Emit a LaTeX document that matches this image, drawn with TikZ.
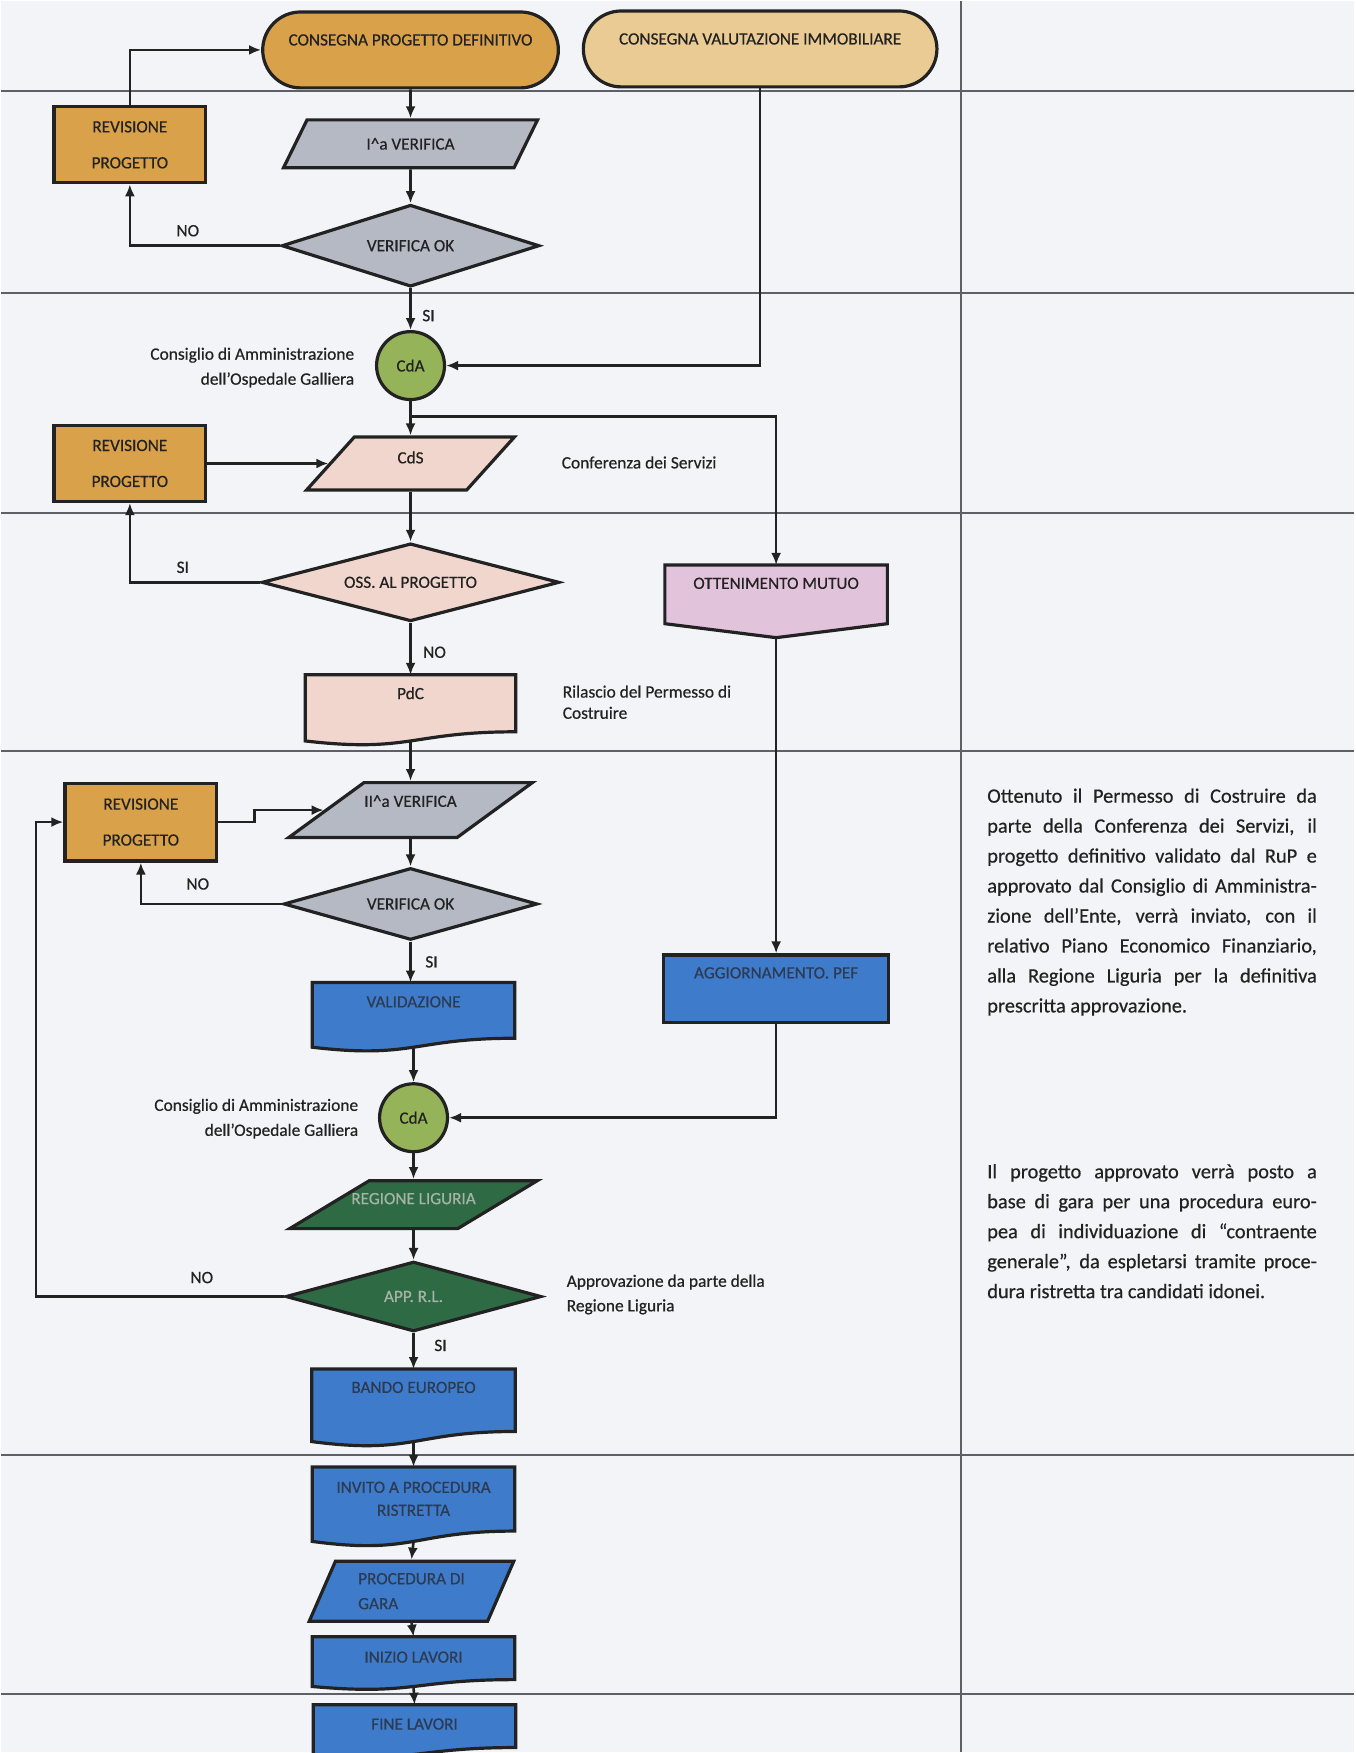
\documentclass[tikz,border=0pt]{standalone}
\usepackage{fontspec}
\setmainfont{Carlito}[FakeBold=0.5]
\usetikzlibrary{shapes.geometric,shapes.misc,arrows.meta,calc}
\pgfdeclarelayer{back}
\pgfdeclarelayer{bg}
\pgfsetlayers{back,bg,main}
\definecolor{bgpage}{HTML}{F3F4F7}
\definecolor{orangeC}{HTML}{D9A14A}
\definecolor{tanC}{HTML}{EACB93}
\definecolor{grayC}{HTML}{B4B9C4}
\definecolor{greenC}{HTML}{95B459}
\definecolor{pinkC}{HTML}{F1D6CD}
\definecolor{mauveC}{HTML}{E1C3DB}
\definecolor{blueC}{HTML}{3E7CCB}
\definecolor{dgreenC}{HTML}{2E6B44}
\definecolor{lineC}{HTML}{222222}
\definecolor{laneC}{HTML}{5E6066}
\definecolor{txtC}{HTML}{222222}
\definecolor{bluetxt}{HTML}{2C3A52}
\definecolor{greentxt}{HTML}{A7B3A5}
\newcommand{\docbg}[3]{%
  \begin{pgfonlayer}{bg}
  \path[shp, fill=#2] (#1.north west) -- (#1.north east)
    -- ($(#1.south east)+(0,{-0.131*#3})$)
    .. controls ($(#1.south)+(0,{-0.131*#3})$) and ($(#1.south)+(0,{0.174*#3})$) .. (#1.south west) -- cycle;
  \end{pgfonlayer}}
\newcommand{\mutbg}[2]{%
  \begin{pgfonlayer}{bg}
  \path[shp, fill=#2] (#1.north west) -- (#1.north east)
    -- ($(#1.south east)+(0,-14)$) -- (#1.south) -- ($(#1.south west)+(0,-14)$) -- cycle;
  \end{pgfonlayer}}
\begin{document}
\begin{tikzpicture}[x=0.5pt,y=-0.5pt,
  shp/.style={draw=lineC, line width=1.6pt, inner sep=0pt},
  ghost/.style={rectangle, draw=none, fill=none, inner sep=0pt},
  arr/.style={draw=lineC, line width=1.3pt, -{Latex[length=6pt,width=5pt]}},
  lane/.style={draw=laneC, line width=1pt},
  boxtxt/.style={font=\fontsize{8.6}{10}\selectfont, text=txtC, inner sep=0pt, align=center},
  lbl/.style={font=\fontsize{8.7}{12.5}\selectfont, text=txtC, inner sep=0pt},
  termbox/.style={shp, rounded rectangle, minimum height=38pt},
  revbox/.style={shp, rectangle, fill=orangeC, minimum width=76pt, minimum height=38pt, font=\fontsize{8.6}{18}\selectfont, text=txtC, align=center},
  parabox/.style={shp, trapezium, trapezium stretches=true, inner sep=2pt},
  diabox/.style={shp, diamond, font=\fontsize{8.6}{10}\selectfont, text=txtC},
  cdabox/.style={shp, circle, fill=greenC, minimum size=34pt, font=\fontsize{8.6}{10}\selectfont, text=txtC},
  note/.style={anchor=north west, text width=165pt, align=justify, inner sep=0pt,
    font=\fontsize{10.2}{15}\selectfont, text=txtC}
]
\begin{pgfonlayer}{back}
\fill[bgpage] (0,0) rectangle (1355,1753);
\foreach \yy in {90,292,513,751,1456,1695} \draw[lane] (0,\yy) -- (1355,\yy);
\draw[lane] (961,0) -- (961,1753);
\end{pgfonlayer}
\useasboundingbox (0,0) rectangle (1355,1753);

% ---- top lane
\node[termbox, fill=orangeC, minimum width=148pt] (term1) at (410,49) {};
\node[boxtxt] (term1-t) at (410,39) {CONSEGNA PROGETTO DEFINITIVO};
\node[termbox, fill=tanC, minimum width=177pt] (term2) at (760,48) {};
\node[boxtxt] (term2-t) at (760,38) {CONSEGNA VALUTAZIONE IMMOBILIARE};

\node[revbox] (rev1) at (129,144) {REVISIONE\\PROGETTO};
\node[parabox, fill=grayC, trapezium left angle=61, trapezium right angle=119,
  minimum width=127.5pt, minimum height=24pt, font=\fontsize{8.6}{10}\selectfont, text=txtC] (ver1) at (410,143) {I\textasciicircum{}a VERIFICA};
\node[diabox, fill=grayC, aspect=3.15, minimum width=129pt, minimum height=41pt] (dia1) at (410,245) {VERIFICA OK};
\node[lbl] (no1) at (187,230) {NO};
\node[lbl] (si1) at (428,315) {SI};

\node[cdabox] (cda1) at (410,365) {CdA};
\node[lbl, anchor=east, align=right] (cdal1) at (354,367) {Consiglio di Amministrazione\\dell’Ospedale Galliera};

\node[parabox, fill=pinkC, trapezium left angle=67, trapezium right angle=113,
  minimum width=104pt, minimum height=26.5pt] (cds) at (410,463) {};
\node[boxtxt] (cds-t) at (410,457) {CdS};
\node[revbox] (rev2) at (129,463) {REVISIONE\\PROGETTO};
\node[lbl, anchor=west] (cdsl) at (561,462) {Conferenza dei Servizi};

\node[diabox, fill=pinkC, aspect=3.8, minimum width=149pt, minimum height=39pt] (oss) at (410,582) {OSS. AL PROGETTO};
\node[lbl] (si2) at (182,567) {SI};
\node[lbl] (no2) at (434,652) {NO};

\node[ghost, minimum width=111pt, minimum height=36pt] (mutuo) at (776,601) {};
\mutbg{mutuo}{mauveC}
\node[boxtxt] (mutuo-t) at (776,583) {OTTENIMENTO MUTUO};

\node[ghost, minimum width=105pt, minimum height=32.7pt] (pdc) at (410,707.7) {};
\docbg{pdc}{pinkC}{70}
\node[boxtxt] (pdc-t) at (410,693) {PdC};
\node[lbl, anchor=west, align=left, font=\fontsize{8.7}{10.6}\selectfont] (pdcl) at (562,702) {Rilascio del Permesso di\\Costruire};

% ---- II verifica lane
\node[parabox, fill=grayC, trapezium left angle=51, trapezium right angle=129,
  minimum width=122pt, minimum height=27.5pt] (ii) at (410,810) {};
\node[boxtxt] (ii-t) at (410,801) {II\textasciicircum{}a VERIFICA};
\node[revbox, minimum height=39pt] (rev3) at (140,822) {REVISIONE\\PROGETTO};
\node[diabox, fill=grayC, aspect=3.5, minimum width=127pt, minimum height=36pt] (dia2) at (410,904) {VERIFICA OK};
\node[lbl] (no3) at (197,884) {NO};
\node[lbl] (si3) at (431,962) {SI};

\node[ghost, minimum width=101pt, minimum height=32pt] (val) at (413,1015) {};
\docbg{val}{blueC}{68.5}
\node[boxtxt, text=bluetxt] (val-t) at (413,1002) {VALIDAZIONE};

\node[shp, rectangle, fill=blueC, minimum width=112.5pt, minimum height=34pt] (agg) at (776,989) {};
\node[boxtxt, text=bluetxt] (agg-t) at (776,973) {AGGIORNAMENTO. PEF};

\node[cdabox] (cda2) at (413,1118) {CdA};
\node[lbl, anchor=east, align=right] (cdal2) at (358,1119) {Consiglio di Amministrazione\\dell’Ospedale Galliera};

\node[parabox, fill=dgreenC, trapezium left angle=48, trapezium right angle=132,
  minimum width=124pt, minimum height=24pt] (reg) at (413,1205) {};
\node[boxtxt, text=greentxt] (reg-t) at (413,1199) {REGIONE LIGURIA};
\node[diabox, fill=dgreenC, text=greentxt, aspect=3.66, minimum width=128pt, minimum height=35pt] (app) at (413,1297) {APP. R.L.};
\node[lbl] (no4) at (201,1278) {NO};
\node[lbl, anchor=west, align=left, font=\fontsize{8.7}{12.3}\selectfont] (appl) at (566,1295) {Approvazione da parte della\\Regione Liguria};
\node[lbl] (si4) at (440,1346) {SI};

\node[ghost, minimum width=101.5pt, minimum height=35.9pt] (bando) at (413,1405.9) {};
\docbg{bando}{blueC}{77}
\node[boxtxt, text=bluetxt] (bando-t) at (413,1388) {BANDO EUROPEO};

% ---- gara lane
\node[ghost, minimum width=101pt, minimum height=36.85pt] (invito) at (413,1504.9) {};
\docbg{invito}{blueC}{79}
\node[boxtxt, text=bluetxt, font=\fontsize{8.6}{11.5}\selectfont] (invito-t) at (413,1499.5) {INVITO A PROCEDURA\\RISTRETTA};

\node[parabox, fill=blueC, trapezium left angle=66, trapezium right angle=114,
  minimum width=103pt, minimum height=30pt, font=\fontsize{8.6}{12.5}\selectfont, text=bluetxt, align=left] (proc) at (411,1592) {PROCEDURA DI\\GARA};

\node[ghost, minimum width=101pt, minimum height=24.5pt] (inizio) at (413,1662.5) {};
\docbg{inizio}{blueC}{52.5}
\node[boxtxt, text=bluetxt] (inizio-t) at (413,1658) {INIZIO LAVORI};

\node[ghost, minimum width=101pt, minimum height=24.5pt] (fine) at (414,1730.5) {};
\docbg{fine}{blueC}{52.5}
\node[boxtxt, text=bluetxt] (fine-t) at (414,1725) {FINE LAVORI};

% ---- right column notes
\node[note] (note1) at (987,788) {Ottenuto il Permesso di Costruire da\linebreak
parte della Conferenza dei Servizi, il\linebreak
progetto definitivo validato dal RuP e\linebreak
approvato dal Consiglio di Amministra-\linebreak
zione dell’Ente, verrà inviato, con il\linebreak
relativo Piano Economico Finanziario,\linebreak
alla Regione Liguria per la definitiva\linebreak
prescritta approvazione.};
\node[note] (note2) at (987,1164) {Il progetto approvato verrà posto a\linebreak
base di gara per una procedura euro-\linebreak
pea di individuazione di “contraente\linebreak
generale”, da espletarsi tramite proce-\linebreak
dura ristretta tra candidati idonei.};

% ---- connectors
\coordinate (br1) at (410,416);
\coordinate (lft) at (35,1000);
\draw[arr] (rev1.north) |- (term1.west);
\draw[arr] (term1.south) -- (ver1.north);
\draw[arr] (ver1.south) -- (dia1.north);
\draw[arr] (dia1.west) -| (rev1.south);
\draw[arr] (dia1.south) -- (cda1.north);
\draw[arr] (term2.south) |- (cda1.east);
\draw[arr] (cda1.south) -- (cds.north);
\draw[arr] (br1) -| (mutuo.north);
\draw[arr] (rev2.east) -- (cds.west);
\draw[arr] (cds.south) -- (oss.north);
\draw[arr] (oss.west) -| (rev2.south);
\draw[arr] (oss.south) -- (pdc.north);
\draw[arr] (pdc.south) -- (ii.north);
\draw[arr] (rev3.east) -- ++(36,0) |- (ii.west);
\draw[arr] (ii.south) -- (dia2.north);
\draw[arr] (dia2.west) -| (rev3.south);
\draw[arr] (dia2.south) -- (dia2.south |- val.north);
\draw[arr] (mutuo.south) -- (agg.north);
\draw[arr] (val.south) -- (cda2.north);
\draw[arr] (agg.south) |- (cda2.east);
\draw[arr] (cda2.south) -- (reg.north);
\draw[arr] (reg.south) -- (app.north);
\draw[arr] (app.west) -| (lft) |- (rev3.west);
\draw[arr] (app.south) -- (bando.north);
\draw[arr] (bando.south) -- (invito.north);
\draw[arr] (invito.south) -- (proc.north);
\draw[arr] (proc.south) -- (inizio.north);
\draw[arr] (inizio.south) -- (fine.north);
\end{tikzpicture}
\end{document}
